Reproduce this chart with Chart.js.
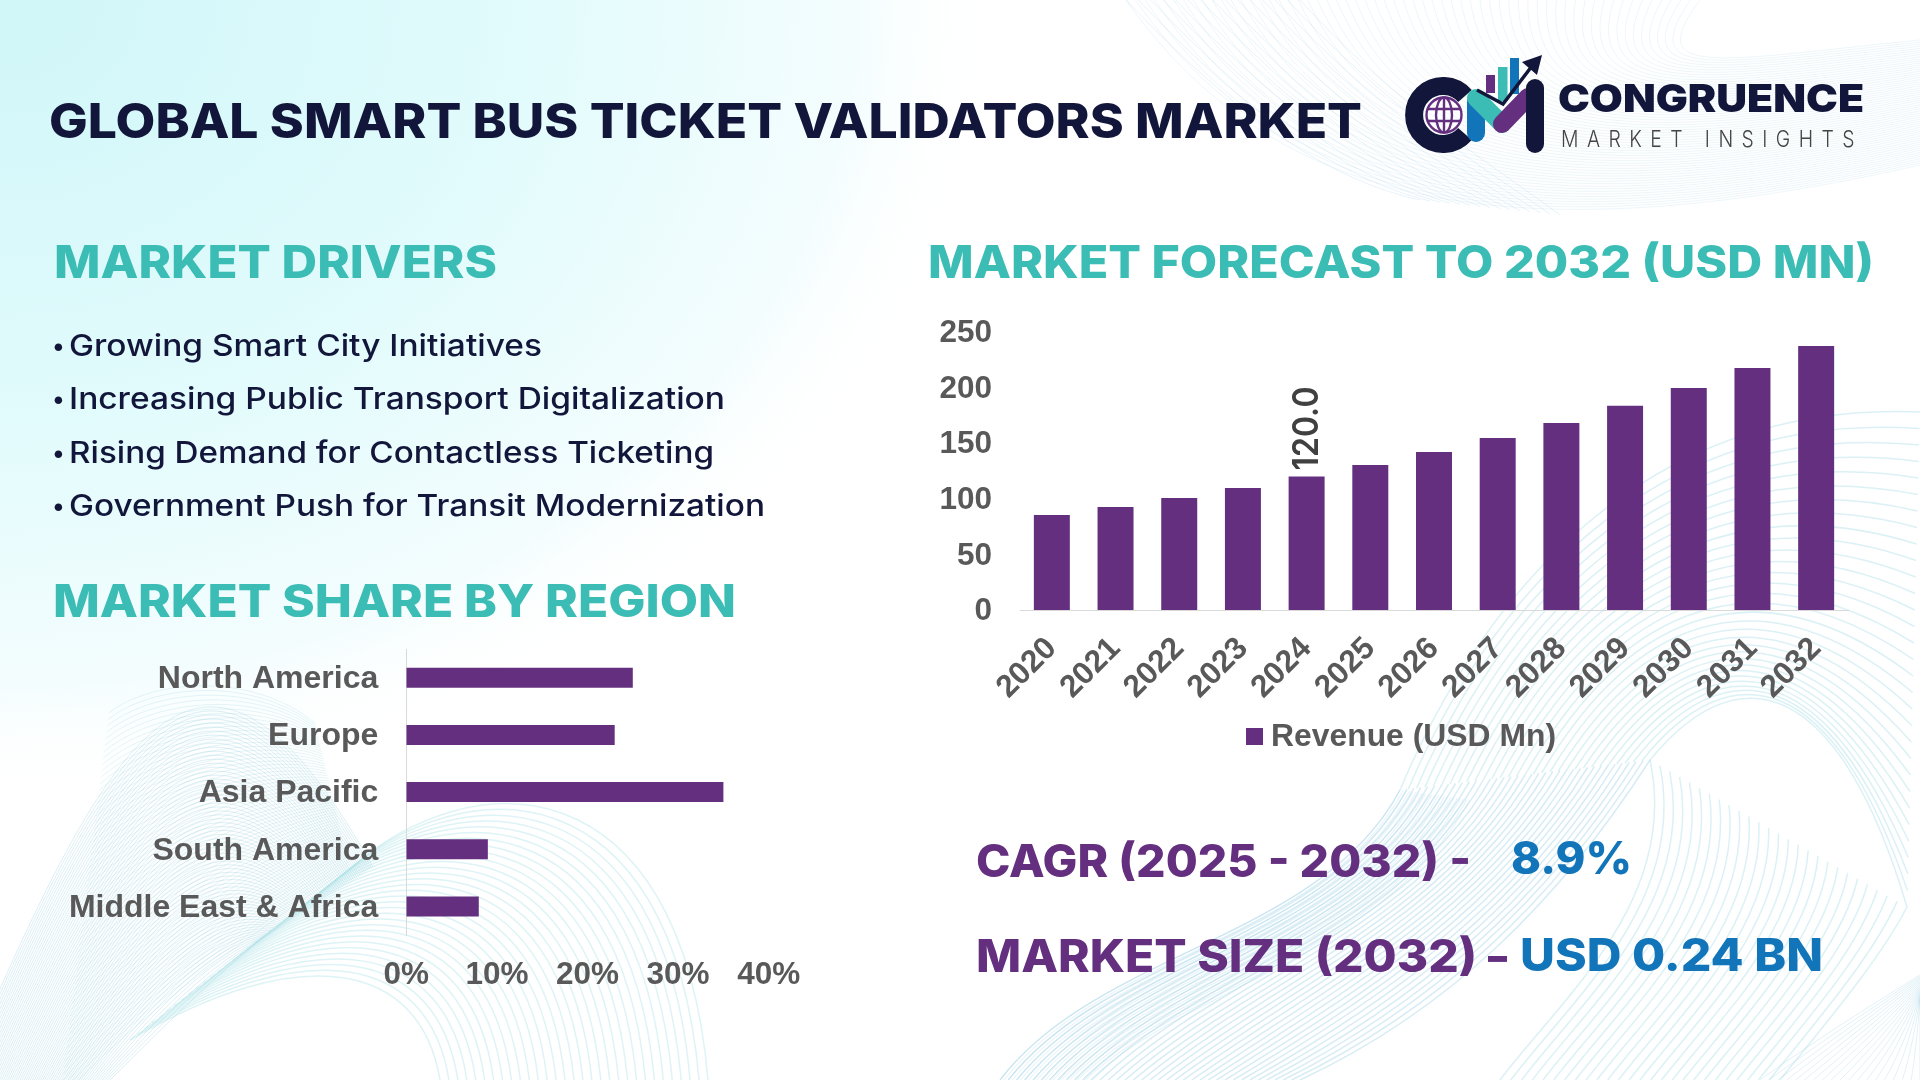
<!DOCTYPE html>
<html>
<head>
<meta charset="utf-8">
<title>Global Smart Bus Ticket Validators Market</title>
<script src="https://cdn.jsdelivr.net/npm/chart.js@4"></script>
<style>
  html, body { margin: 0; padding: 0; background: #fff; }
  #page { position: relative; width: 1920px; height: 1080px; overflow: hidden; background: #fff; }
  #page canvas, #page svg { position: absolute; }
  .t { position: absolute; white-space: nowrap; line-height: 1; transform-origin: left center; font-family: Inter, "Noto Sans", sans-serif; }
</style>
</head>
<body>
<div id="page">
  <canvas id="bg" width="1920" height="1080" style="left:0;top:0"></canvas>
  <canvas id="regionChart" width="800" height="398" style="left:40px;top:602px"></canvas>
  <canvas id="forecastChart" width="960" height="485" style="left:920px;top:285px"></canvas>
  <svg id="logo" width="240" height="130" viewBox="1380 40 240 130" style="left:1380px;top:40px">
    <path d="M1465 96 A29 29 0 1 0 1465 134" fill="none" stroke="#12163a" stroke-width="18"/>
    <g fill="none" stroke="#642f7f" stroke-width="2.4">
      <circle cx="1444" cy="115" r="17.5"/>
      <ellipse cx="1444" cy="115" rx="8" ry="17.5"/>
      <path d="M1444 97.5V132.5M1427.5 109H1460.5M1427.5 121H1460.5"/>
    </g>
    <rect x="1486" y="75" width="9" height="18" fill="#642f7f"/>
    <rect x="1498" y="67" width="9.5" height="34" fill="#3bbdb5"/>
    <rect x="1510" y="58" width="9" height="36" fill="#1274b9"/>
    <g fill="none" stroke-linecap="round" stroke-width="18">
      <path d="M1476 102V133" stroke="#1274b9"/>
      <path d="M1476 98L1502 124" stroke="#3bbdb5"/>
      <path d="M1502 124L1528 97" stroke="#642f7f"/>
      <path d="M1535 88V144" stroke="#12163a"/>
    </g>
    <path d="M1477 90L1503 104L1532 66" fill="none" stroke="#12163a" stroke-width="3.5"/>
    <path d="M1542 55L1522 62L1537 75Z" fill="#12163a"/>
  </svg>
</div>
<script>
// chart values
const forecastYears = ['2020', '2021', '2022', '2023', '2024', '2025', '2026', '2027', '2028', '2029', '2030', '2031', '2032'];
const forecastRevenue = [85.4, 92.6, 100.7, 109.7, 120.0, 130.4, 142.1, 154.7, 168.2, 183.5, 199.6, 217.6, 237.4];
const forecastLabel = 'Revenue (USD Mn)';
const forecastLabelled = ['2024'];
const regionNames = ['North America', 'Europe', 'Asia Pacific', 'South America', 'Middle East & Africa'];
const regionShares = [25, 23, 35, 9, 8];

const PURPLE = '#642f7f';
const TEAL = '#3bbdb5';
const NAVY = '#12163a';
const BLUE = '#1274b9';
const GREY = '#595959';
const AXIS_FONT = { family: '"Liberation Sans", Arial, sans-serif', size: 31.5, weight: 'bold' };
const CATEGORY_FONT = { family: '"Liberation Sans", Arial, sans-serif', size: 32, weight: 'bold' };

const page = document.getElementById('page');

// text placed by left edge, vertical centre and target width
function addText(text, x, cy, width, size, weight, color, spacing) {
  const el = document.createElement('div');
  el.className = 't';
  el.textContent = text;
  el.style.left = x + 'px';
  el.style.top = (cy - size / 2) + 'px';
  el.style.fontSize = size + 'px';
  el.style.fontWeight = weight;
  el.style.color = color;
  if (spacing) el.style.letterSpacing = spacing + 'px';
  page.appendChild(el);
  if (width) el.style.transform = 'scaleX(' + (width / el.getBoundingClientRect().width) + ')';
  return el;
}

addText('GLOBAL SMART BUS TICKET VALIDATORS MARKET', 49, 121, 1313, 48, 800, NAVY);
addText('MARKET DRIVERS', 54, 261, 443, 45, 800, TEAL);
addText('MARKET SHARE BY REGION', 53, 600, 683, 45, 800, TEAL);
addText('MARKET FORECAST TO 2032 (USD MN)', 928, 261, 946, 45, 800, TEAL);

[['Growing Smart City Initiatives', 345, 473],
 ['Increasing Public Transport Digitalization', 398, 656],
 ['Rising Demand for Contactless Ticketing', 452, 645],
 ['Government Push for Transit Modernization', 505, 696]].forEach(([txt, cy, w]) => {
  addText('•', 52, cy + 1, 0, 24, 500, NAVY);
  addText(txt, 69, cy, w, 30, 500, NAVY);
});

addText('CAGR (2025 - 2032) -', 976, 860, 495, 45, 800, PURPLE);
addText('8.9%', 1511, 857, 121, 45, 800, BLUE);
addText('MARKET SIZE (2032)', 976, 955, 501, 45, 800, PURPLE);
addText('–', 1488, 955, 19, 45, 800, PURPLE);
addText('USD 0.24 BN', 1520, 954, 303, 45, 800, BLUE);
addText('CONGRUENCE', 1558, 98, 306, 38, 900, NAVY);
addText('MARKET INSIGHTS', 1561, 139, 302, 23, 300, '#444', 10);

// background: soft corner gradient and thin wave meshes
function drawBackground() {
  const ctx = document.getElementById('bg').getContext('2d');
  ctx.fillStyle = '#fff';
  ctx.fillRect(0, 0, 1920, 1080);
  ctx.save();
  ctx.scale(1, 0.8);
  const g = ctx.createRadialGradient(0, 0, 60, 0, 0, 1000);
  g.addColorStop(0, '#d2f7f9');
  g.addColorStop(0.5, '#e2fbfc');
  g.addColorStop(0.85, '#f4fdfe');
  g.addColorStop(1, 'rgba(255,255,255,0)');
  ctx.fillStyle = g;
  ctx.fillRect(0, 0, 1920, 1350);
  ctx.restore();

  function mesh(a, b, n, color, alpha, width) {
    ctx.strokeStyle = color;
    ctx.globalAlpha = alpha;
    ctx.lineWidth = width || 1;
    for (let i = 0; i <= n; i++) {
      const t = i / n;
      const p = a.map((pt, k) => [pt[0] + (b[k][0] - pt[0]) * t, pt[1] + (b[k][1] - pt[1]) * t]);
      ctx.beginPath();
      ctx.moveTo(p[0][0], p[0][1]);
      ctx.bezierCurveTo(p[1][0], p[1][1], p[2][0], p[2][1], p[3][0], p[3][1]);
      ctx.stroke();
    }
    ctx.globalAlpha = 1;
  }

  // bottom left ribbon, both directions so the moire shows
  mesh([[-60, 1130], [110, 720], [200, 560], [373, 867]], [[90, 1100], [150, 1040], [210, 980], [260, 940]], 70, '#8fcbdc', 0.3);
  mesh([[109, 713], [150, 680], [250, 670], [315, 723]], [[60, 1100], [140, 1010], [260, 930], [349, 867]], 60, '#8fcbdc', 0.22);
  // bottom left arch
  mesh([[349, 870], [470, 760], [680, 760], [708, 1080]], [[130, 1040], [300, 940], [420, 960], [440, 1080]], 30, '#a6e0e6', 0.38, 1.5);
  // bottom right arches
  mesh([[1000, 1080], [1100, 950], [1320, 940], [1400, 790]], [[1300, 1080], [1450, 1010], [1560, 900], [1650, 760]], 36, '#9fd2e6', 0.42, 1.5);
  mesh([[1400, 790], [1480, 600], [1640, 400], [1920, 412]], [[1650, 760], [1740, 650], [1840, 680], [1907, 907]], 30, '#a6dde6', 0.4, 1.5);
  mesh([[1650, 760], [1680, 900], [1560, 1000], [1500, 1080]], [[1907, 907], [1880, 960], [1820, 1030], [1780, 1080]], 26, '#a6dde6', 0.4, 1.5);
  mesh([[1000, 1080], [1100, 950], [1320, 940], [1400, 790]], [[1090, 1080], [1190, 985], [1380, 960], [1470, 800]], 22, '#9fd2e6', 0.3);
  mesh([[1760, 1080], [1830, 1030], [1880, 1000], [1920, 975]], [[1920, 1080], [1920, 1060], [1920, 1030], [1920, 1000]], 18, '#9fd2e6', 0.3);
  // top right ribbon
  mesh([[1126, 0], [1260, 190], [1480, 265], [1920, 165]], [[1700, 0], [1640, 80], [1720, 60], [1920, 40]], 60, '#b4d8ea', 0.24);
  mesh([[1300, 0], [1400, 110], [1500, 170], [1560, 215]], [[1126, 0], [1240, 120], [1330, 180], [1420, 200]], 14, '#b4d8ea', 0.3);
}
drawBackground();

// rotated value label drawn for the picked categories only
const valueLabels = {
  id: 'valueLabels',
  afterDatasetsDraw(chart) {
    const ctx = chart.ctx;
    const bars = chart.getDatasetMeta(0).data;
    chart.data.labels.forEach((lab, i) => {
      if (!forecastLabelled.includes(lab)) return;
      const txt = chart.data.datasets[0].data[i].toFixed(1);
      ctx.save();
      ctx.translate(bars[i].x, bars[i].y - 6);
      ctx.rotate(-Math.PI / 2);
      ctx.font = '600 35px Inter, sans-serif';
      ctx.scale(84 / ctx.measureText(txt).width, 1);
      ctx.fillStyle = '#404040';
      ctx.textAlign = 'left';
      ctx.textBaseline = 'middle';
      ctx.fillText(txt, 0, 1);
      ctx.restore();
    });
  }
};

const forecastChart = new Chart(document.getElementById('forecastChart'), {
  type: 'bar',
  data: {
    labels: forecastYears,
    datasets: [{ label: forecastLabel, data: forecastRevenue, backgroundColor: PURPLE, barPercentage: 0.565, categoryPercentage: 1 }],
  },
  options: {
    responsive: false,
    animation: false,
    layout: { padding: { top: 0, right: 32, bottom: 0, left: 0 } },
    plugins: { legend: { display: false }, tooltip: { enabled: false } },
    scales: {
      x: {
        grid: { display: false },
        border: { color: '#d9d9d9', width: 1 },
        ticks: { font: AXIS_FONT, color: GREY, minRotation: 45, maxRotation: 45, padding: 12, autoSkip: false },
        afterFit: (s) => { s.height = 160; },
      },
      y: {
        min: 0,
        max: 250,
        grid: { display: false, drawTicks: false },
        border: { display: false },
        ticks: { font: AXIS_FONT, color: GREY, stepSize: 50, padding: 28, labelOffset: 1.5 },
        afterFit: (s) => { s.width = 100; },
      },
    },
  },
  plugins: [valueLabels],
});

// html legend built from the dataset
forecastChart.data.datasets.forEach((ds) => {
  const box = document.createElement('div');
  box.style.cssText = 'position:absolute;left:1246px;top:728px;width:17px;height:17px;background:' + ds.backgroundColor;
  page.appendChild(box);
  const el = addText(ds.label, 1271, 736, 0, 31.5, 700, GREY);
  el.style.fontFamily = AXIS_FONT.family;
  el.style.transform = 'scaleX(' + (285 / el.getBoundingClientRect().width) + ')';
});

new Chart(document.getElementById('regionChart'), {
  type: 'bar',
  data: {
    labels: regionNames,
    datasets: [{ label: 'Share', data: regionShares, backgroundColor: PURPLE, barPercentage: 0.35, categoryPercentage: 1 }],
  },
  options: {
    indexAxis: 'y',
    responsive: false,
    animation: false,
    layout: { padding: { top: 0, right: 71.3, bottom: 0, left: 0 } },
    plugins: { legend: { display: false }, tooltip: { enabled: false } },
    scales: {
      x: {
        min: 0,
        max: 40,
        grid: { display: false, drawTicks: false },
        border: { display: false },
        ticks: { font: AXIS_FONT, color: GREY, stepSize: 10, padding: 21, callback: (v) => v + '%' },
        afterFit: (s) => { s.height = 65; },
      },
      y: {
        grid: { display: false, drawTicks: false },
        border: { color: '#d9d9d9', width: 1 },
        ticks: { font: CATEGORY_FONT, color: GREY, padding: 28, autoSkip: false, labelOffset: 1.5 },
        afterFit: (s) => { s.width = 366.3; },
      },
    },
  },
});
</script>
</body>
</html>
